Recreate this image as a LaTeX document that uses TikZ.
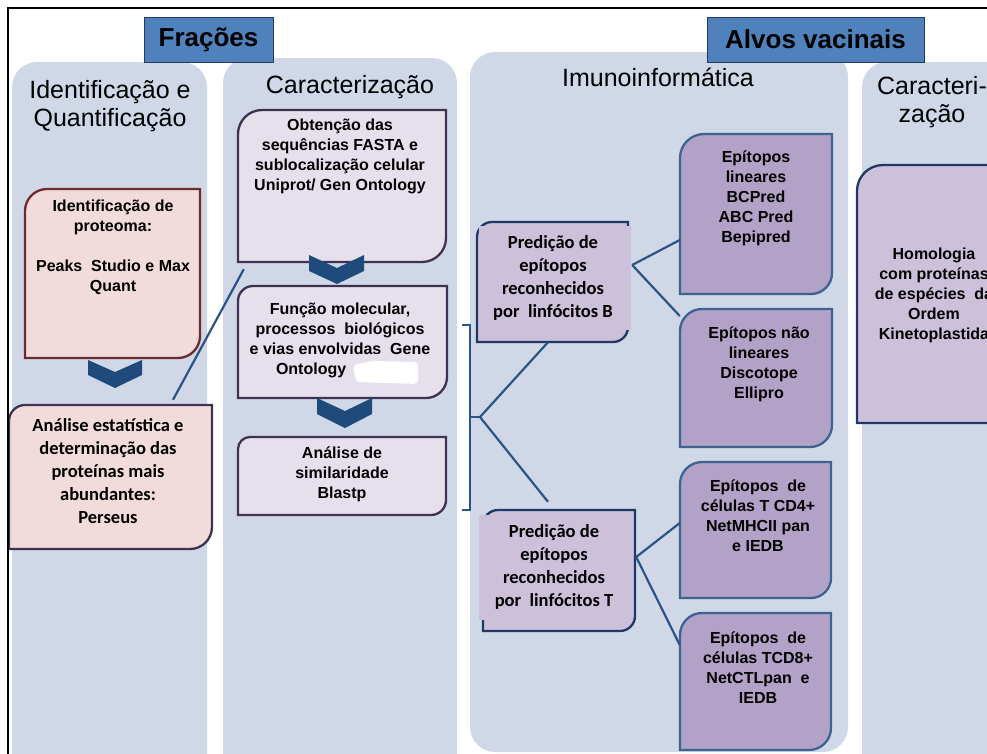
\documentclass[tikz,border=0pt]{standalone}
\usepackage{fontspec}
\setmainfont{Liberation Sans}
\newfontfamily\calib{Carlito}
\usetikzlibrary{fit,calc}

\definecolor{panel}{HTML}{D0D8E8}
\definecolor{titlefill}{HTML}{4F81BD}
\definecolor{titleline}{HTML}{243A5E}
\definecolor{pinkfill}{HTML}{F2DCDB}
\definecolor{brownline}{HTML}{6E2B2B}
\definecolor{purpline}{HTML}{3F3151}
\definecolor{lilac}{HTML}{E6E0EC}
\definecolor{lav}{HTML}{CCC0DA}
\definecolor{navy}{HTML}{1F3864}
\definecolor{violet}{HTML}{B3A2C7}
\definecolor{steel}{HTML}{3D6491}
\definecolor{conn}{HTML}{2B5384}
\definecolor{chev}{HTML}{1F4B7C}

% name, x1, y1, x2, y2, r top-left, r bottom-right, style
\newcommand\dbox[8]{%
  \path[#8] (#2,-#3-#6) arc[start angle=180,end angle=90,radius=#6] -- (#4,-#3)
    -- (#4,-#5+#7) arc[start angle=0,end angle=-90,radius=#7] -- (#2,-#5) -- cycle;
  \node[fit={(#2,-#3) (#4,-#5)}, inner sep=0pt, draw=none] (#1) {};
}

\tikzset{
  btext/.style={align=center, font=\bfseries\fontsize{16}{20}\selectfont, inner sep=0pt},
  ctext/.style={align=center, font=\calib\bfseries\fontsize{18.5}{23}\selectfont, inner sep=0pt},
  heading/.style={align=center, font=\fontsize{25}{27.5}\selectfont, inner sep=0pt},
  titlebox/.style={draw=titleline, line width=1pt, fill=titlefill, font=\bfseries\fontsize{26}{30}\selectfont, inner sep=0pt},
  connector/.style={draw=conn, line width=2.2pt},
  pinkboxA/.style={fill=pinkfill, draw=brownline, line width=2.3pt},
  pinkboxB/.style={fill=pinkfill, draw=purpline, line width=2.3pt},
  lilacbox/.style={fill=lilac, draw=purpline, line width=2.3pt},
  lavbox/.style={fill=lav, draw=navy, line width=2.3pt},
  violetbox/.style={fill=violet, draw=steel, line width=2.3pt},
  chevron/.style={fill=chev}
}

\begin{document}
\begin{tikzpicture}[x=1pt,y=1pt]
\useasboundingbox (0,0) rectangle (987,-753);
\clip (0,0) rectangle (987,-753);

% panels
\fill[panel, rounded corners=25pt] (12,-800) rectangle (207,-62);
\fill[panel, rounded corners=25pt] (223,-800) rectangle (457,-58);
\fill[panel, rounded corners=25pt] (470,-752) rectangle (848,-52);
\fill[panel, rounded corners=25pt] (862,-800) rectangle (1020,-62);

% title boxes
\node[titlebox, minimum width=129pt, minimum height=45pt] (frac) at (208.5,-39.5) {Frações};
\node[titlebox, minimum width=217pt, minimum height=45pt] (alvos) at (815.5,-39.5) {Alvos vacinais};

% headings
\node[heading] (h1) at (110,-106) {Identificação e\\Quantificação};
\node[heading, anchor=base] (h2) at (350,-93) {Caracterização};
\node[heading, anchor=base] (h3) at (658,-86) {Imunoinformática};
\node[heading] (h4) at (932,-102) {Caracteri-\\zação};

% panel 1
\dbox{A}{25}{189}{200}{358}{22}{22}{pinkboxA}
\node[btext] (At) at (113,-247) {Identificação de\\proteoma:\\[20pt]Peaks\ \ Studio e Max\\Quant};
\fill[chevron] (88,-360) -- (115,-372) -- (142,-360) -- (142,-375) -- (115,-388) -- (88,-375) -- cycle;
\dbox{B}{9}{405}{212}{549}{16}{22}{pinkboxB}
\node[ctext] (Bt) at (108,-471) {Análise estatística e\\determinação das\\proteínas mais\\abundantes:\\Perseus};

% panel 2
\dbox{C}{238}{110}{446}{262}{24}{24}{lilacbox}
\node[btext] (Ct) at (340,-156) {Obtenção das\\sequências FASTA e\\sublocalização celular\\Uniprot/ Gen Ontology};
\fill[chevron] (309,-255) -- (337,-268) -- (364,-255) -- (364,-271) -- (337,-284) -- (309,-271) -- cycle;
\dbox{D}{238}{286}{447}{398}{15}{21}{lilacbox}
\node[btext] (Dt) at (340,-340) {Função molecular,\\processos\ \ biológicos\\e vias envolvidas\ \ Gene\\\makebox[128pt][l]{Ontology}};
\fill[white, rounded corners=4pt] (353,-365) -- (372,-361) -- (418,-362) -- (418,-384) -- (356,-382) -- cycle;
\fill[chevron] (317,-398) -- (345,-411) -- (372,-398) -- (372,-414) -- (345,-428) -- (317,-414) -- cycle;
\dbox{E}{238}{437}{446}{515}{12}{15}{lilacbox}
\node[btext] (Et) at (342,-474) {Análise de\\similaridade\\Blastp};

% panel 3
\dbox{F}{477}{222}{628}{342}{15}{15}{lavbox}
\fill[lav] (479,-226) rectangle (631,-330);
\node[ctext] (Ft) at (553,-278) {Predição de\\epítopos\\reconhecidos\\por\ \ linfócitos B};
\dbox{G}{483}{510}{635}{631}{15}{15}{lavbox}
\fill[lav] (479,-515) rectangle (633,-620);
\node[ctext] (Gt) at (554,-567) {Predição de\\epítopos\\reconhecidos\\por\ \ linfócitos T};

\dbox{H}{680}{134}{832}{294}{24}{21}{violetbox}
\node[btext] (Ht) at (756,-198) {Epítopos\\lineares\\BCPred\\ABC Pred\\Bepipred};
\dbox{I}{680}{309}{832}{447}{22}{22}{violetbox}
\node[btext] (It) at (759,-364) {Epítopos não\\lineares\\Discotope\\Ellipro};
\dbox{J}{680}{462}{831}{598}{22}{20}{violetbox}
\node[btext] (Jt) at (758,-516) {Epítopos\ \ de\\células T CD4+\\NetMHCII pan\\e IEDB};
\dbox{K}{680}{613}{831}{750}{22}{22}{violetbox}
\node[btext] (Kt) at (758,-668) {Epítopos\ \ de\\células TCD8+\\NetCTLpan\ \ e\\IEDB};

% panel 4
\dbox{L}{857}{165}{1010}{423}{26}{20}{lavbox}
\node[btext] (Lt) at (934,-295) {Homologia\\com proteínas\\de espécies\ \ da\\Ordem\\Kinetoplastida};

% connectors
\draw[connector] ([xshift=62.5pt,yshift=5pt]B.north) -- ([xshift=6pt,yshift=-7pt]C.south west);
\coordinate (brT) at (462,-325);
\coordinate (brTc) at (470,-325);
\coordinate (brBc) at (470,-510);
\coordinate (brB) at (462,-510);
\coordinate (brMc) at (470,-417);
\coordinate (brM) at (480,-417);
\draw[connector] (brT) -- (brTc) -- (brBc) -- (brB);
\draw[connector] (brMc) -- (brM);
\draw[connector] (brM) -- ([xshift=-4.5pt]F.south);
\draw[connector] (brM) -- ([xshift=-11pt,yshift=8pt]G.north);
\draw[connector] ([xshift=4pt,yshift=17pt]F.east) -- ([yshift=-26pt]H.west);
\draw[connector] ([xshift=4pt,yshift=17pt]F.east) -- ([yshift=62pt]I.west);
\draw[connector] ([xshift=1pt,yshift=13.5pt]G.east) -- ([yshift=7pt]J.west);
\draw[connector] ([xshift=1pt,yshift=13.5pt]G.east) -- ([yshift=36.5pt]K.west);

% outer frame
\coordinate (frBL) at (7.8,-760);
\coordinate (frTL) at (7.8,-7.8);
\coordinate (frTR) at (990,-7.8);
\draw[line width=2.3pt] (frBL) -- (frTL) -- (frTR);
\end{tikzpicture}
\end{document}
